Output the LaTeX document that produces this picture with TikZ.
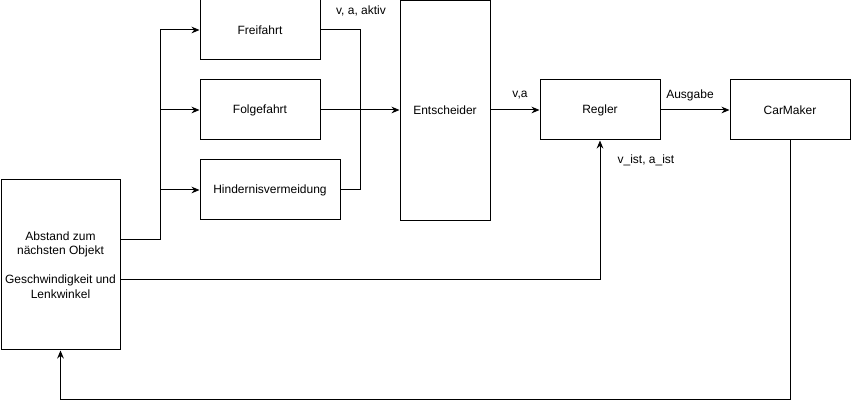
\documentclass[tikz,border=0pt]{standalone}
\usepackage{fontspec}
\setmainfont{Liberation Sans}
\usetikzlibrary{arrows.meta}
\begin{document}
\begin{tikzpicture}[x=0.75pt,y=-0.75pt,
  box/.style={draw,line width=0.75pt,inner sep=0pt,align=center,font=\fontsize{9}{10.8}\selectfont},
  lbl/.style={inner sep=0pt,font=\fontsize{9}{10.8}\selectfont},
  conn/.style={line width=0.75pt},
  arr/.style={line width=0.75pt,-{Stealth[length=6pt,width=5pt]}}]
\useasboundingbox (0,0) rectangle (851,409);
\node[box,minimum width=89.25pt,minimum height=127.5pt] (L) at (60.5,265) {Abstand zum\\nächsten Objekt\\[10.8pt]Geschwindigkeit und\\Lenkwinkel};
\node[box,minimum width=90pt,minimum height=45pt] (F) at (260,30) {Freifahrt};
\node[box,minimum width=90pt,minimum height=45pt] (Fo) at (260,110) {Folgefahrt};
\node[box,minimum width=105pt,minimum height=45pt] (H) at (270,190) {Hindernisvermeidung};
\node[box,minimum width=67.5pt,minimum height=165pt] (E) at (445,110.5) {Entscheider};
\node[box,minimum width=90pt,minimum height=45pt] (R) at (600,110) {Regler};
\node[box,minimum width=90pt,minimum height=45pt] (C) at (790,110) {CarMaker};
\coordinate (j) at (160,240);
\coordinate (m) at (360,110);
\coordinate (b) at (790,400);
\coordinate (k) at (0,280);
\draw[conn] (L.east |- j) -- (j);
\draw[arr] (j) |- (F.west);
\draw[arr] (j) |- (Fo.west);
\draw[arr] (j) |- (H.west);
\draw[conn] (F.east) -| (m);
\draw[conn] (H.east) -| (m);
\draw[arr] (Fo.east) -- (E.west |- Fo.east);
\draw[arr] (E.east |- R.west) -- (R.west);
\draw[arr] (R.east) -- (C.west);
\draw[arr] (C.south) -- (b) -| (L.south);
\draw[arr] (L.east |- k) -| (R.south);
\node[lbl] (t1) at (361,11) {v, a, aktiv};
\node[lbl] (t2) at (520,95) {v,a};
\node[lbl] (t3) at (690,95) {Ausgabe};
\node[lbl] (t4) at (646,160) {v\_ist, a\_ist};
\end{tikzpicture}
\end{document}
